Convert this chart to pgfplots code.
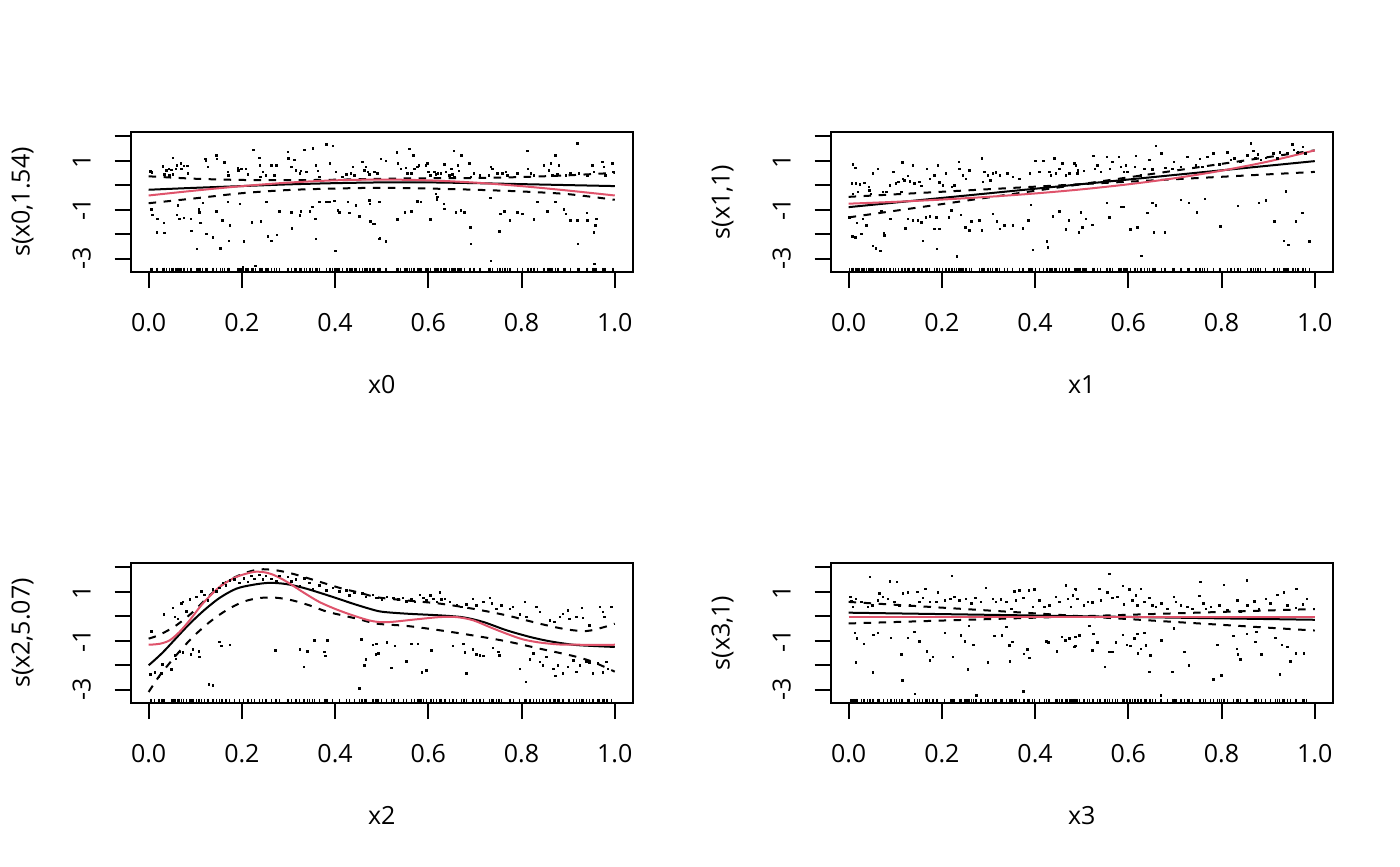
\documentclass[border=0pt]{standalone}
\usepackage{fontspec}
\setmainfont{Open Sans}
\usepackage{pgfplots}
\usepackage{pgfplotstable}
\pgfplotsset{compat=1.18}
\definecolor{rred}{HTML}{DF536B}

\pgfplotstableread{
x y
0.004 0.575
0.007 0.52
0.031 0.78
0.038 0.62
0.044 0.68
0.049 0.64
0.034 0.44
0.045 0.41
0.052 0.44
0.052 1.12
0.058 0.68
0.061 0.82
0.069 0.89
0.070 0.68
0.076 0.79
0.083 0.79
0.084 0.48
0.122 1.07
0.123 1.00
0.127 0.75
0.145 1.23
0.146 1.07
0.163 0.93
0.170 0.55
0.171 0.41
0.191 0.71
0.193 0.62
0.199 0.68
0.209 0.68
0.213 0.44
0.225 1.44
0.238 1.12
0.239 0.82
0.240 0.34
0.245 0.55
0.252 0.41
0.263 0.82
0.270 0.41
0.274 0.82
0.299 1.37
0.300 1.10
0.306 0.75
0.313 1.03
0.316 0.62
0.324 0.48
0.327 0.58
0.334 1.44
0.338 0.55
0.352 1.51
0.359 0.82
0.363 0.58
0.366 0.34
0.381 1.67
0.395 1.62
0.389 0.89
0.402 0.55
0.416 0.34
0.424 0.44
0.434 0.48
0.438 0.75
0.441 0.41
0.459 0.96
0.463 0.62
0.466 0.75
0.470 0.55
0.474 0.44
0.484 0.55
0.491 0.48
0.006 -0.99
0.008 -1.21
0.019 -1.37
0.018 -1.92
0.033 -1.53
0.034 -1.95
0.063 -0.82
0.061 -1.21
0.066 -1.37
0.076 -1.34
0.091 -1.37
0.092 -1.86
0.108 -0.99
0.109 -1.10
0.111 -1.53
0.104 -2.60
0.116 -0.71
0.124 -1.99
0.138 -2.12
0.145 -1.07
0.154 -2.58
0.158 -1.44
0.170 -0.68
0.174 -1.64
0.172 -2.26
0.196 -0.75
0.204 -2.30
0.202 -3.36
0.222 -1.51
0.229 -3.29
0.241 -1.48
0.253 -0.68
0.256 -2.08
0.263 -2.26
0.275 -2.03
0.281 -1.07
0.306 -1.10
0.307 -1.75
0.324 -1.23
0.327 -1.07
0.346 -1.07
0.351 -0.89
0.358 -1.37
0.359 -2.19
0.366 -0.68
0.381 -0.68
0.388 -0.68
0.399 -0.63
0.401 -2.67
0.406 -1.03
0.409 -1.10
0.427 -0.68
0.431 -1.12
0.445 -0.82
0.452 -1.26
0.474 -0.62
0.475 -0.75
0.476 -1.48
0.481 -1.58
0.494 -0.68
0.494 -2.19
0.498 1.07
0.509 0.99
0.533 1.34
0.535 0.89
0.541 0.68
0.552 0.71
0.555 0.48
0.559 1.48
0.564 0.48
0.568 1.23
0.570 0.68
0.577 0.75
0.580 0.82
0.595 0.82
0.598 0.89
0.600 0.55
0.604 0.41
0.613 0.55
0.616 0.44
0.621 0.48
0.627 0.48
0.634 0.85
0.638 0.55
0.645 0.41
0.650 0.68
0.652 0.44
0.655 1.40
0.656 0.34
0.663 0.82
0.666 0.58
0.671 1.23
0.688 0.89
0.691 0.34
0.698 0.48
0.711 0.41
0.730 0.41
0.734 0.75
0.738 0.68
0.748 0.48
0.759 0.48
0.766 0.55
0.770 0.41
0.791 0.48
0.813 1.40
0.814 0.68
0.820 0.48
0.827 0.41
0.848 0.82
0.859 0.62
0.863 0.89
0.873 1.23
0.866 0.41
0.877 0.44
0.880 0.82
0.895 0.41
0.905 0.48
0.920 1.71
0.923 0.48
0.941 0.41
0.952 0.82
0.955 0.55
0.973 0.96
0.977 0.75
0.980 0.41
0.995 0.89
0.997 0.55
0.495 -0.68
0.485 -1.58
0.496 -2.16
0.509 -2.30
0.534 -1.40
0.550 -1.10
0.564 -1.07
0.577 -0.66
0.584 -0.68
0.605 -1.40
0.616 -0.34
0.618 -0.58
0.620 -0.48
0.633 -0.75
0.634 -0.96
0.659 -1.10
0.670 -1.03
0.677 -1.10
0.690 -1.71
0.691 -2.40
0.733 -0.52
0.734 -3.08
0.752 -1.89
0.755 -1.16
0.763 -1.07
0.775 -1.44
0.791 -1.10
0.802 -1.16
0.827 -1.40
0.834 -0.68
0.855 -1.07
0.873 -0.68
0.891 -0.99
0.895 -1.16
0.905 -1.44
0.920 -1.44
0.921 -2.40
0.940 -1.12
0.941 -1.44
0.955 -1.92
0.961 -1.37
0.959 -1.64
0.956 -3.22
}\dotsA

\pgfplotstableread{
x y
0.009 0.85
0.015 0.71
0.007 0.07
0.016 0.07
0.024 0.04
0.034 0.10
0.043 -0.07
0.009 -0.34
0.020 -0.27
0.045 -0.21
0.048 -0.34
0.052 0.48
0.063 0.68
0.074 -0.27
0.081 -0.27
0.088 0.00
0.096 0.55
0.101 0.07
0.107 0.14
0.113 -0.27
0.115 0.93
0.116 0.27
0.120 0.21
0.127 0.38
0.131 0.16
0.138 0.82
0.141 0.07
0.152 0.14
0.156 -0.03
0.168 0.68
0.174 0.27
0.184 0.41
0.191 0.82
0.195 0.11
0.202 0.00
0.209 0.48
0.222 -0.07
0.227 0.00
0.236 0.96
0.238 0.68
0.245 0.41
0.252 0.27
0.259 0.62
0.286 1.10
0.288 0.14
0.291 0.55
0.299 0.41
0.304 0.21
0.309 0.48
0.316 0.52
0.324 0.41
0.341 0.48
0.352 0.34
0.366 0.27
0.389 0.48
0.401 0.99
0.409 0.55
0.418 0.99
0.431 0.55
0.434 0.41
0.441 1.10
0.445 0.48
0.452 0.68
0.459 0.89
0.466 0.41
0.474 0.48
0.488 0.82
0.491 0.48
0.002 -1.30
0.008 -2.08
0.015 -2.12
0.018 -1.53
0.027 -1.99
0.031 -1.37
0.038 -1.64
0.052 -2.47
0.059 -2.58
0.068 -2.67
0.070 -1.07
0.076 -1.95
0.077 -2.05
0.090 -1.37
0.122 -1.75
0.127 -1.37
0.138 -1.44
0.149 -1.44
0.156 -1.51
0.159 -2.26
0.166 -1.30
0.174 -1.26
0.184 -1.78
0.188 -1.30
0.189 -2.60
0.195 -1.78
0.215 -1.30
0.220 -1.03
0.232 -2.90
0.241 -1.21
0.251 -1.71
0.259 -1.85
0.263 -1.48
0.281 -1.44
0.286 -1.85
0.309 -1.16
0.318 -1.48
0.324 -1.78
0.334 -1.64
0.352 -1.64
0.374 -1.75
0.386 -1.44
0.391 -0.79
0.395 -2.63
0.425 -2.30
0.427 -2.53
0.438 -1.26
0.452 -1.07
0.466 -1.81
0.472 -1.44
0.494 -1.92
0.484 0.89
0.492 0.62
0.505 0.58
0.525 1.21
0.528 0.68
0.534 0.82
0.541 0.55
0.554 1.16
0.561 0.68
0.566 0.96
0.580 1.16
0.584 0.75
0.590 0.55
0.595 0.82
0.598 0.55
0.616 1.21
0.614 0.75
0.627 0.41
0.634 0.68
0.645 1.03
0.652 0.66
0.659 1.62
0.671 1.30
0.680 0.71
0.695 0.68
0.698 0.96
0.713 0.75
0.727 1.16
0.745 0.82
0.754 1.07
0.759 0.75
0.770 1.16
0.783 1.30
0.795 0.85
0.813 1.34
0.820 1.03
0.828 1.10
0.841 0.96
0.855 1.23
0.863 1.71
0.868 1.40
0.873 1.12
0.878 1.26
0.884 1.03
0.895 1.12
0.911 1.30
0.920 1.10
0.925 1.34
0.941 1.30
0.952 1.67
0.955 1.44
0.964 1.34
0.975 1.58
0.980 1.30
0.498 -1.10
0.502 -1.71
0.509 -1.37
0.523 -1.62
0.554 -0.71
0.559 -1.30
0.585 -0.89
0.591 -0.89
0.605 -1.81
0.620 -1.71
0.628 -2.88
0.641 -1.12
0.652 -0.71
0.659 -0.82
0.655 -1.92
0.678 -1.92
0.713 -0.60
0.730 -0.71
0.747 -1.10
0.764 -0.55
0.798 -1.67
0.835 -0.85
0.880 -0.71
0.895 -0.62
0.913 -1.48
0.934 -2.26
0.943 -2.44
0.938 -0.25
0.959 -1.48
0.973 -1.12
0.988 -2.30
}\dotsB

\pgfplotstableread{
x y
0.006 -0.61
0.004 -2.38
0.013 -2.30
0.022 -2.48
0.027 -2.34
0.029 -1.97
0.049 -2.16
0.033 0.07
0.052 0.34
0.056 -0.03
0.063 -0.10
0.070 0.52
0.074 0.59
0.081 0.20
0.088 0.69
0.102 0.79
0.113 1.02
0.120 0.88
0.127 0.65
0.138 1.10
0.145 1.02
0.152 1.16
0.159 1.37
0.166 1.27
0.174 1.47
0.184 1.51
0.195 1.37
0.204 1.56
0.213 1.40
0.220 1.65
0.227 1.54
0.238 1.70
0.245 1.51
0.252 1.65
0.263 1.54
0.274 1.43
0.281 1.65
0.299 1.61
0.306 1.43
0.316 1.51
0.324 1.24
0.334 1.56
0.345 1.37
0.352 1.13
0.366 1.27
0.381 1.06
0.395 1.16
0.409 1.02
0.424 1.06
0.431 0.86
0.441 0.97
0.459 0.93
0.466 0.79
0.481 0.88
0.491 0.75
0.056 -1.59
0.058 -1.73
0.066 -1.46
0.074 -1.48
0.091 -1.56
0.095 -1.35
0.108 -1.43
0.109 -1.66
0.129 -2.79
0.138 -2.82
0.152 -1.05
0.156 -1.21
0.174 -1.16
0.272 -1.39
0.324 -1.35
0.333 -2.07
0.341 -1.43
0.356 -0.98
0.377 -1.46
0.379 -1.62
0.384 -0.98
0.452 -2.95
0.456 -0.94
0.463 -2.00
0.466 -1.76
0.481 -1.16
0.488 -1.56
0.489 0.75
0.500 0.69
0.511 0.79
0.525 0.75
0.536 0.69
0.546 0.75
0.553 0.61
0.564 0.69
0.571 0.59
0.582 0.88
0.589 0.75
0.596 0.65
0.605 0.86
0.611 0.72
0.618 0.59
0.625 0.97
0.628 0.69
0.636 0.72
0.646 0.59
0.661 0.45
0.671 0.38
0.682 0.48
0.696 0.72
0.703 0.45
0.718 0.59
0.732 0.75
0.736 0.52
0.746 0.31
0.757 0.45
0.775 0.31
0.782 0.38
0.796 0.07
0.807 0.59
0.810 -0.03
0.832 0.38
0.839 0.18
0.861 -0.16
0.871 -0.23
0.882 -0.03
0.889 0.11
0.900 0.24
0.903 -0.10
0.918 -0.03
0.929 0.34
0.932 -0.07
0.946 -0.37
0.968 0.38
0.975 0.18
0.978 -0.03
0.993 0.38
0.489 -1.12
0.493 -1.52
0.511 -1.07
0.521 -2.11
0.528 -1.21
0.553 -1.84
0.564 -1.12
0.578 -1.12
0.586 -2.30
0.596 -2.20
0.607 -1.39
0.653 -1.21
0.675 -1.12
0.678 -1.48
0.682 -2.34
0.696 -1.35
0.703 -1.56
0.711 -1.59
0.718 -1.62
0.739 -1.29
0.750 -1.46
0.753 -1.59
0.796 -2.14
0.809 -2.68
0.818 -1.76
0.825 -1.52
0.839 -1.86
0.846 -2.00
0.853 -1.66
0.868 -2.14
0.873 -2.44
0.878 -2.00
0.889 -2.34
0.900 -2.07
0.911 -1.80
0.918 -2.27
0.925 -2.00
0.939 -1.84
0.946 -1.89
0.953 -2.34
0.964 -1.93
0.975 -2.30
0.982 -1.86
0.985 -2.14
}\dotsC

\pgfplotstableread{
x y
0.004 0.79
0.006 0.61
0.009 0.38
0.016 0.72
0.027 0.59
0.041 0.38
0.046 1.61
0.051 0.45
0.063 0.65
0.066 0.93
0.074 0.79
0.084 0.72
0.089 1.43
0.103 1.40
0.098 0.59
0.109 0.45
0.116 0.93
0.127 0.97
0.131 0.45
0.147 0.99
0.152 0.59
0.159 0.75
0.165 1.13
0.174 0.59
0.188 0.59
0.191 0.97
0.206 0.65
0.218 0.72
0.222 1.65
0.227 0.79
0.238 0.65
0.252 0.72
0.263 0.52
0.272 0.75
0.284 0.59
0.294 1.16
0.309 0.72
0.316 0.59
0.327 0.69
0.338 0.59
0.349 0.31
0.356 1.02
0.359 0.65
0.366 1.06
0.375 0.75
0.387 1.06
0.399 1.10
0.395 0.38
0.409 0.65
0.420 0.38
0.431 0.45
0.445 0.79
0.452 0.59
0.466 1.27
0.470 0.72
0.477 0.38
0.481 0.86
0.488 1.10
0.013 -0.67
0.018 -0.91
0.016 -1.89
0.033 -1.12
0.052 -2.30
0.053 -0.75
0.063 -0.67
0.091 -0.88
0.113 -1.56
0.115 -2.61
0.127 -0.88
0.141 -0.64
0.142 -3.16
0.152 -1.02
0.168 -1.43
0.174 -1.80
0.181 -1.66
0.206 -0.67
0.224 -1.66
0.241 -0.78
0.249 -1.02
0.256 -2.16
0.258 -0.39
0.274 -3.22
0.268 -1.16
0.299 -1.89
0.313 -0.80
0.329 -0.78
0.338 -0.44
0.345 -1.18
0.346 -1.84
0.351 -1.05
0.375 -3.06
0.376 -1.54
0.384 -1.35
0.388 -1.70
0.424 -1.02
0.429 -1.07
0.447 -1.43
0.458 -0.84
0.465 -0.98
0.474 -0.91
0.484 -1.25
0.485 1.13
0.491 0.72
0.505 0.45
0.513 0.59
0.523 0.56
0.538 1.13
0.541 0.65
0.555 0.97
0.559 1.74
0.566 0.75
0.577 0.79
0.588 1.24
0.591 0.48
0.602 1.10
0.609 0.65
0.616 0.86
0.620 0.45
0.627 1.13
0.635 0.59
0.645 0.75
0.652 0.45
0.659 0.38
0.671 0.52
0.684 0.31
0.698 0.79
0.702 0.59
0.713 0.45
0.727 0.38
0.738 0.31
0.752 0.83
0.755 1.40
0.761 0.52
0.766 0.31
0.777 0.38
0.795 0.45
0.805 1.29
0.813 0.24
0.834 0.65
0.841 0.20
0.854 1.47
0.855 0.45
0.870 0.61
0.880 0.31
0.895 0.72
0.905 0.52
0.920 0.88
0.934 0.97
0.941 0.45
0.961 1.13
0.959 0.34
0.975 0.48
0.983 0.72
0.486 -0.84
0.487 -1.21
0.495 -0.78
0.516 -0.39
0.525 -0.71
0.523 -1.39
0.534 -1.07
0.550 -2.07
0.559 -1.46
0.566 -1.46
0.573 -1.07
0.588 -0.75
0.597 -1.16
0.605 -1.21
0.613 -0.91
0.620 -0.71
0.621 -1.52
0.627 -1.32
0.634 -0.67
0.638 -1.18
0.645 -2.27
0.647 -1.59
0.671 -0.98
0.695 -2.27
0.698 -0.50
0.720 -1.46
0.730 -2.00
0.783 -2.57
0.791 -1.16
0.800 -2.41
0.825 -0.80
0.833 -1.32
0.835 -1.56
0.841 -1.76
0.854 -0.71
0.873 -1.05
0.875 -0.64
0.885 -1.56
0.916 -0.88
0.925 -2.38
0.930 -1.16
0.941 -1.25
0.948 -1.84
0.959 -1.52
0.977 -1.52
0.670 -3.22
}\dotsD

\pgfplotsset{
  gam/.style={
    scale only axis,
    width=240.96bp, height=67.2bp,
    anchor=south west,
    xmin=-0.0385, xmax=1.0385, ymin=-3.54, ymax=2.18,
    axis line style={line width=0.96bp},
    every tick/.style={black, line width=0.96bp},
    tick align=outside,
    major tick length=7.7bp,
    tick pos=left,
    xtick={0,0.2,0.4,0.6,0.8,1},
    xticklabels={0.0,0.2,0.4,0.6,0.8,1.0},
    ytick={-3,-2,-1,0,1,2},
    yticklabels={-3,,-1,,1,},
    minor tick num=0,
    tick label style={font=\fontsize{12bp}{14bp}\selectfont, inner sep=0pt},
    xticklabel style={anchor=north},
    yticklabel style={rotate=90, anchor=base},
    xticklabel shift=11.8bp,
    yticklabel shift=11.5bp,
    label style={font=\fontsize{12bp}{14bp}\selectfont, inner sep=0pt},
    xlabel style={at={(axis description cs:0.5,0)}, anchor=base, yshift=-58.4bp},
    ylabel style={at={(axis description cs:-0.2012,0.5)}, anchor=base},
  },
  dots/.style={only marks, mark=square*, mark size=0.36bp, mark options={draw=none, fill=black}},
  rug/.style={only marks, mark=|, mark size=1.0bp, mark options={line width=0.62bp, black}},
  fit/.style={black, line width=0.96bp, no marks},
  ci/.style={black, line width=0.96bp, no marks, dash pattern=on 3.6bp off 3.6bp},
  truth/.style={rred, line width=0.96bp, no marks},
}

\begin{document}
\begin{tikzpicture}
\useasboundingbox (0,0) rectangle (672bp,415.68bp);

% panel 1
\begin{axis}[gam, at={(62.74bp,285.12bp)}, xlabel={x0}, ylabel={s(x0,1.54)}]
\addplot[dots] table[x=x,y=y] {\dotsA};
\addplot[rug] table[x=x, y expr=-3.454] {\dotsA};
\addplot[fit, smooth] coordinates {(0,-0.18) (0.1,-0.10) (0.2,-0.03) (0.3,0.04) (0.4,0.09) (0.5,0.12) (0.6,0.12) (0.7,0.09) (0.8,0.05) (0.9,0.01) (1.0,-0.03)};
\addplot[ci, smooth] coordinates {(0,0.37) (0.1,0.27) (0.2,0.22) (0.3,0.21) (0.4,0.23) (0.5,0.27) (0.6,0.29) (0.7,0.30) (0.8,0.34) (0.9,0.41) (1.0,0.51)};
\addplot[ci, smooth] coordinates {(0,-0.73) (0.1,-0.53) (0.2,-0.32) (0.3,-0.19) (0.4,-0.13) (0.5,-0.10) (0.6,-0.13) (0.7,-0.18) (0.8,-0.25) (0.9,-0.36) (1.0,-0.59)};
\addplot[truth, smooth] coordinates {(0,-0.414) (0.1,-0.213) (0.2,-0.032) (0.3,0.112) (0.4,0.205) (0.5,0.236) (0.6,0.205) (0.7,0.112) (0.8,-0.032) (0.9,-0.213) (1.0,-0.414)};
\end{axis}

% panel 2
\begin{axis}[gam, at={(398.74bp,285.12bp)}, xlabel={x1}, ylabel={s(x1,1)}]
\addplot[dots] table[x=x,y=y] {\dotsB};
\addplot[rug] table[x=x, y expr=-3.454] {\dotsB};
\addplot[fit] coordinates {(0,-0.89) (1,0.99)};
\addplot[ci] coordinates {(0,-0.47) (0.5,0.05) (1,1.43)};
\addplot[ci] coordinates {(0,-1.31) (0.5,0.05) (1,0.55)};
\addplot[truth, smooth] coordinates {(0,-0.749) (0.1,-0.673) (0.2,-0.581) (0.3,-0.468) (0.4,-0.331) (0.5,-0.163) (0.6,0.043) (0.7,0.293) (0.8,0.600) (0.9,0.973) (1.0,1.430)};
\end{axis}

% panel 3
\begin{axis}[gam, at={(62.74bp,78.24bp)}, xlabel={x2}, ylabel={s(x2,5.07)}]
\addplot[dots] table[x=x,y=y] {\dotsC};
\addplot[rug] table[x=x, y expr=-3.454] {\dotsC};
\addplot[fit, smooth] coordinates {(0,-2.0) (0.031,-1.46) (0.081,-0.44) (0.116,0.20) (0.152,0.75) (0.188,1.13) (0.224,1.29) (0.259,1.37) (0.295,1.32) (0.331,1.17) (0.366,0.97) (0.402,0.75) (0.438,0.52) (0.474,0.31) (0.50,0.19) (0.553,0.11) (0.625,0.04) (0.675,-0.04) (0.718,-0.23) (0.768,-0.57) (0.818,-0.84) (0.861,-1.02) (0.911,-1.16) (0.953,-1.21) (1.0,-1.25)};
\addplot[ci, smooth] coordinates {(0,-0.91) (0.024,-0.75) (0.059,-0.37) (0.095,0.18) (0.131,0.86) (0.166,1.40) (0.202,1.74) (0.238,1.92) (0.274,1.88) (0.309,1.74) (0.345,1.54) (0.381,1.33) (0.416,1.13) (0.452,0.97) (0.49,0.78) (0.553,0.65) (0.625,0.52) (0.696,0.31) (0.768,0.04) (0.839,-0.30) (0.896,-0.53) (0.939,-0.60) (0.975,-0.45) (1.0,-0.30)};
\addplot[ci, smooth] coordinates {(0,-3.09) (0.024,-2.41) (0.059,-1.59) (0.095,-0.84) (0.131,-0.23) (0.166,0.24) (0.202,0.59) (0.238,0.75) (0.274,0.76) (0.309,0.65) (0.345,0.45) (0.381,0.20) (0.416,0.04) (0.452,-0.12) (0.49,-0.30) (0.553,-0.39) (0.625,-0.57) (0.696,-0.78) (0.768,-1.02) (0.839,-1.32) (0.911,-1.62) (0.953,-1.86) (1.0,-2.26)};
\addplot[truth, smooth] coordinates {(0,-1.16) (0.024,-1.12) (0.045,-0.98) (0.066,-0.64) (0.088,-0.16) (0.116,0.52) (0.152,1.20) (0.188,1.61) (0.224,1.81) (0.245,1.81) (0.266,1.71) (0.295,1.43) (0.331,0.99) (0.366,0.59) (0.402,0.29) (0.438,0.04) (0.474,-0.17) (0.50,-0.24) (0.525,-0.22) (0.575,-0.12) (0.625,-0.03) (0.661,-0.03) (0.696,-0.16) (0.732,-0.44) (0.768,-0.71) (0.803,-0.94) (0.839,-1.07) (0.882,-1.15) (0.925,-1.16) (1.0,-1.16)};
\end{axis}

% panel 4
\begin{axis}[gam, at={(398.74bp,78.24bp)}, xlabel={x3}, ylabel={s(x3,1)}]
\addplot[dots] table[x=x,y=y] {\dotsD};
\addplot[rug] table[x=x, y expr=-3.454] {\dotsD};
\addplot[fit] coordinates {(0,0.15) (1,-0.14)};
\addplot[ci] coordinates {(0,0.59) (0.5,0.005) (1,0.30)};
\addplot[ci] coordinates {(0,-0.29) (0.5,0.005) (1,-0.58)};
\addplot[truth] coordinates {(0,-0.01) (1,-0.01)};
\end{axis}
\end{tikzpicture}
\end{document}
